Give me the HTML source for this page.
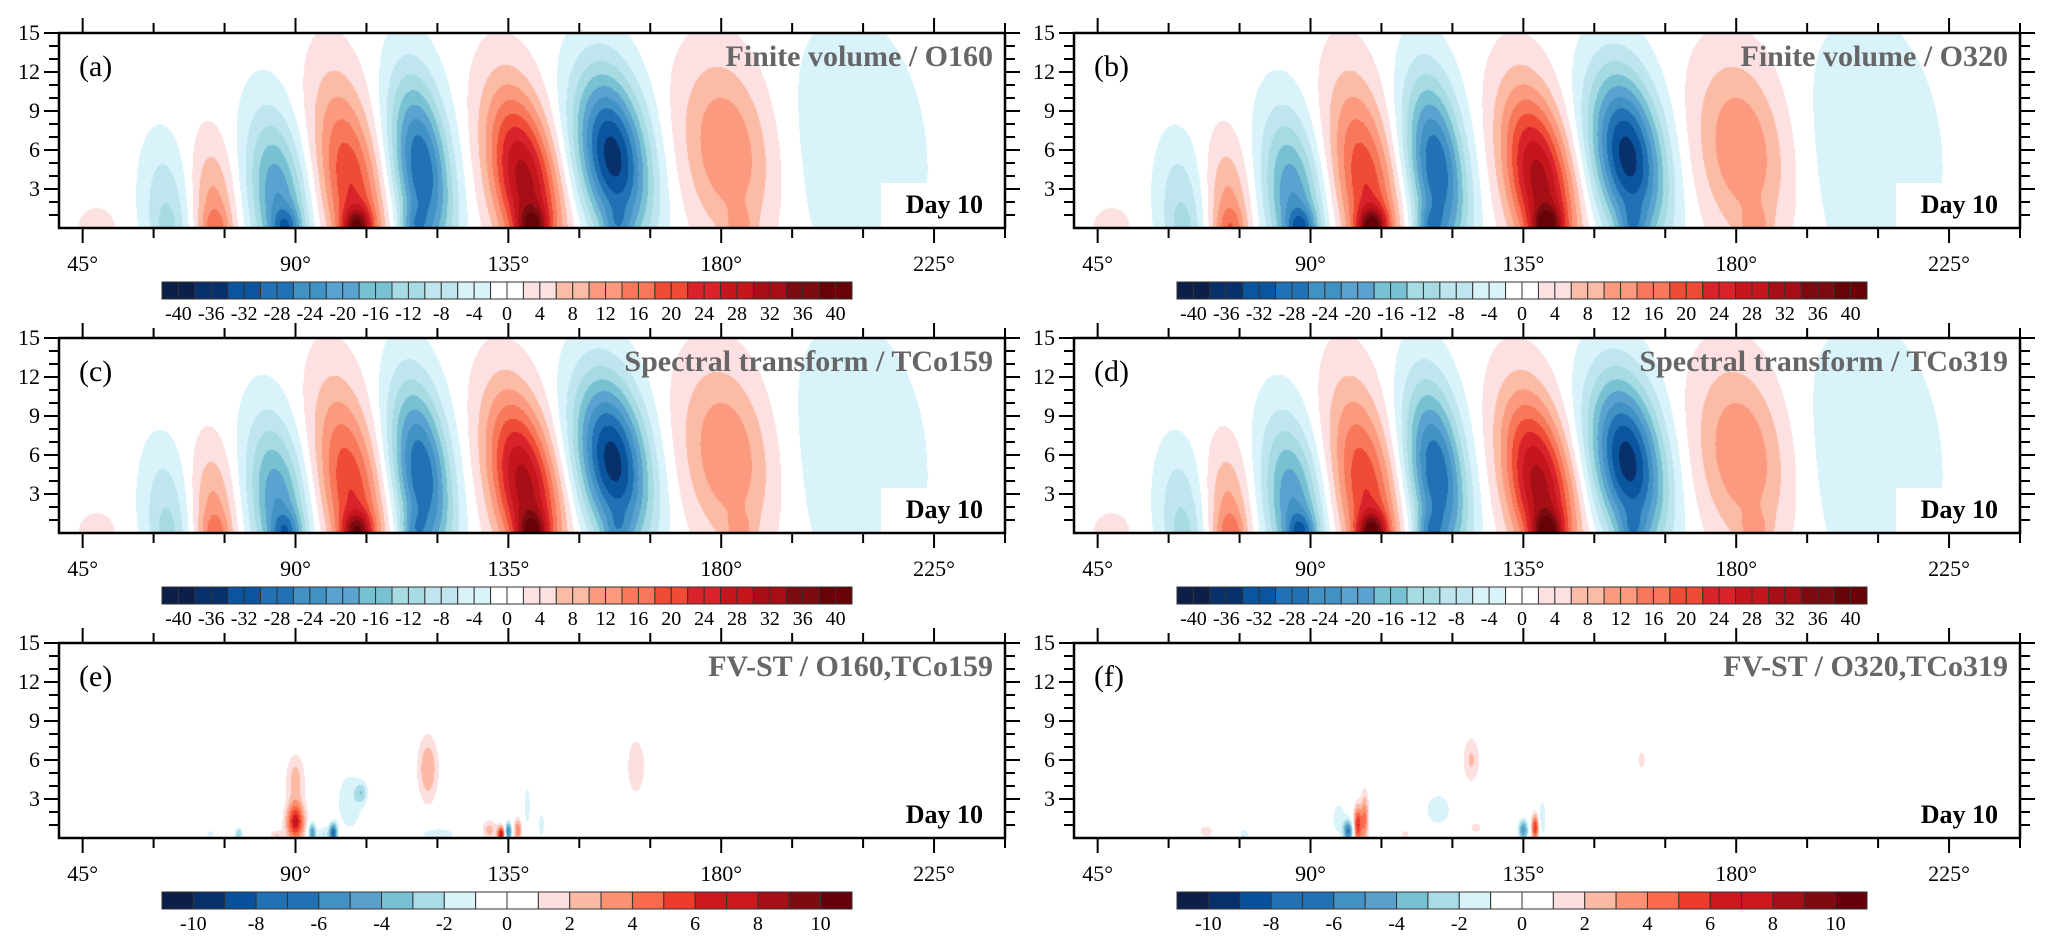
<!DOCTYPE html>
<html><head><meta charset="utf-8">
<style>
html,body{margin:0;padding:0;background:#fff;}
body{width:2054px;height:948px;position:relative;overflow:hidden;font-family:"Liberation Serif",serif;}
canvas{position:absolute;}
svg{position:absolute;left:0;top:0;}
</style></head>
<body>
<svg id="ov" width="2054" height="948"></svg>
<script>
// ---- data: wave lobes of the meridional-wind field (shared by panels a-d) ----
const lobeLon=[48,63,73,87,103,118,140,159,183,210];
const lobeAmp=[5,-10,12,-22,22,-30,32,-36,14,-6];
const lobeZ=[0,1,1,2,3,4.5,3.5,5.5,6,6];
const lobeH=[1.6,5.5,5.5,6.6,8,7,7,6.5,7,10];
const lobeW=[4,5,4.5,6,6.5,6,7,7.5,9.5,14];
const lobeTilt=[0,-0.2,-0.15,-0.3,-0.4,-0.3,-0.45,-0.35,-0.3,-0.2];
const surfAmp=[0,-2,6,-12,22,-10,18,-8,6,0];
const surfLon=[48,63,73,88,103,115,140,158,184,210];
const panelSurfScale=[1,1.15,0.95,1.1];
// ---- difference panels (e,f): blobs [lon, height, amplitude, width, depth] ----
const diffE=[[90,1.2,6.5,2,1.5],[90,4.5,2.5,2,2],[86,0.2,2,1.5,0.4],[93.5,0.4,-5,0.8,0.8],[98,0.4,-7,0.8,0.7],[101.5,2.8,-1.8,3,2.5],[104,3.5,-2.2,1.3,0.8],[96,0.3,-2,1.3,0.6],[118,5.3,3,2.2,2.6],[120,0.3,-1.5,5,0.6],[131,0.6,2.5,1.5,0.8],[133.5,0.3,7,0.8,0.6],[135,0.5,-6,0.7,0.7],[137,0.6,4,0.8,0.9],[139,2.5,-1.5,0.8,2],[142,1,-1.5,0.8,1.2],[162,5.5,2,2,2.3],[78,0.3,-3,0.8,0.5],[72,0.3,-1.2,1.5,0.5]];
const diffF=[[68,0.5,1.5,1.8,0.6],[76,0.3,-1.5,1.2,0.5],[100,1.0,6,0.9,1.5],[101.5,1.5,4,0.8,2],[98,0.5,-6,1,0.8],[96,1.5,-1.5,1.8,1.5],[117,2.2,-1.5,3.5,1.6],[124,6,2.2,1.8,1.8],[135,0.6,-5,1,0.8],[137.5,0.8,6,0.8,1],[139,1.5,-2,0.8,1.5],[160,6,1.6,0.9,0.8],[125,0.8,1.3,1.8,0.6],[110,0.3,1.2,1.8,0.5]];
const mainLabels=[-40,-36,-32,-28,-24,-20,-16,-12,-8,-4,0,4,8,12,16,20,24,28,32,36,40];
const diffLabels=[-10,-8,-6,-4,-2,0,2,4,6,8,10];
const xTicks=[45,90,135,180,225];
const yTicks=[3,6,9,12,15];
const titles=["Finite volume / O160","Finite volume / O320","Spectral transform / TCo159","Spectral transform / TCo319","FV-ST / O160,TCo159","FV-ST / O320,TCo319"];
const letters=["(a)","(b)","(c)","(d)","(e)","(f)"];

const mainColors=["#0b1f48","#08306b","#0b559f","#2171b5","#4292c6","#5aa2cf","#78c1d3","#a6dbe4","#bfe6ee","#d9f3fb","#ffffff","#fde0e1","#fcbba5","#fb9a7e","#f7785a","#ef4b35","#d9232a","#c4161c","#a50f15","#7a0c11","#650307"];
const diffColors=["#0b1f48","#08306b","#08519c","#2171b5","#2171b5","#4292c6","#5aa0cc","#78c0d4","#a8dce6","#d9f3fb","#ffffff","#ffffff","#fddfe0","#fcbaa5","#fc9272","#fb6a4a","#ef3b2c","#cb181d","#cb181d","#a50f15","#7f0b12","#67000d"];

const PW=946,PH=195,LON0=40,LON1=240,ZMAX=15;
const panels=[[59,33],[1074,33],[59,338],[1074,338],[59,643],[1074,643]];
function xs(lon){return (lon-LON0)/(LON1-LON0)*PW;}
function ys(z){return PH-(z/ZMAX)*PH;}
function hex(c){return [parseInt(c.slice(1,3),16),parseInt(c.slice(3,5),16),parseInt(c.slice(5,7),16)];}
const mainRGB=mainColors.map(hex),diffRGB=diffColors.map(hex);

function mainField(lon,z,s){
  let v=0;
  for(let i=0;i<lobeLon.length;i++){
    const c=lobeLon[i]+lobeTilt[i]*z;
    const dx=(lon-c)/lobeW[i],dz=(z-lobeZ[i])/lobeH[i];
    v+=lobeAmp[i]*Math.exp(-dx*dx-dz*dz);
    if(surfAmp[i]){const sx=(lon-surfLon[i])/3,sz=z/1.5;v+=s*surfAmp[i]*Math.exp(-sx*sx-sz*sz);}
  }
  return v;
}
function diffField(lon,z,b){
  let v=0;
  for(const d of b){const dx=(lon-d[0])/d[3],dz=(z-d[1])/d[4];v+=d[2]*Math.exp(-dx*dx-dz*dz);}
  return v;
}
const NS="http://www.w3.org/2000/svg";
const ov=document.getElementById('ov');
function el(tag,attrs,parent,txt){const e=document.createElementNS(NS,tag);for(const k in attrs)e.setAttribute(k,attrs[k]);if(txt!==undefined)e.textContent=txt;(parent||ov).appendChild(e);return e;}

panels.forEach((p,pi)=>{
  const [L,T]=p;
  const cv=document.createElement('canvas');
  cv.width=PW;cv.height=PH;cv.style.left=L+'px';cv.style.top=T+'px';
  
  
  document.body.insertBefore(cv,ov);
  const ctx=cv.getContext('2d');const img=ctx.createImageData(PW,PH);
  const isDiff=pi>=4;
  for(let py=0;py<PH;py++){const z=ZMAX*(1-(py+0.5)/PH);
    for(let px=0;px<PW;px++){const lon=LON0+(px+0.5)/PW*(LON1-LON0);
      let rgb;
      if(isDiff){const v=diffField(lon,z,pi===4?diffE:diffF);let k=Math.floor(v)+11;k=Math.max(0,Math.min(21,k));rgb=diffRGB[k];}
      else{const v=mainField(lon,z,panelSurfScale[pi]);let k=Math.round(v/4);k=Math.max(-10,Math.min(10,k));rgb=mainRGB[k+10];}
      const o=(py*PW+px)*4;img.data[o]=rgb[0];img.data[o+1]=rgb[1];img.data[o+2]=rgb[2];img.data[o+3]=255;}}
  ctx.putImageData(img,0,0);

  const g=el('g',{transform:`translate(${L},${T})`});
  
  
  el('rect',{x:PW-124,y:PH-45,width:124,height:45,fill:'#fff'},g);
  const day=el('text',{x:PW-22,y:PH-15,'text-anchor':'end','font-size':26,'font-weight':'bold',fill:'#000'},g,'Day 10');
  
  
  const tt=el('text',{x:PW-12,y:33,'text-anchor':'end','font-size':30,'font-weight':'bold',fill:'#666'},g,titles[pi]);
  
  
  const lt=el('text',{x:20,y:43,'font-size':30,fill:'#000'},g,letters[pi]);
  
  
  const fr=el('rect',{x:0,y:0,width:PW,height:PH,fill:'none',stroke:'#000','stroke-width':2.5},g);
  
  
  for(let lon=45;lon<=LON1;lon+=15){const x=xs(lon);const major=xTicks.includes(lon);const len=major?15:10;
    el('line',{x1:x,x2:x,y1:0,y2:-len,stroke:'#000','stroke-width':2},g);
    el('line',{x1:x,x2:x,y1:PH,y2:PH+len,stroke:'#000','stroke-width':2},g);}
  xTicks.forEach(lon=>{const t=el('text',{x:xs(lon),y:PH+43,'text-anchor':'middle','font-size':22,fill:'#000'},g,lon+'°');
    
    });
  for(let z=1;z<=ZMAX;z++){const y=ys(z);const major=yTicks.includes(z);const len=major?15:10;
    el('line',{x1:0,x2:-len,y1:y,y2:y,stroke:'#000','stroke-width':2},g);
    el('line',{x1:PW,x2:PW+len,y1:y,y2:y,stroke:'#000','stroke-width':2},g);}
  yTicks.forEach(z=>{const t=el('text',{x:-19,y:ys(z)+7,'text-anchor':'end','font-size':22,fill:'#000'},g,String(z));
    
    });
  const cb=el('g',{transform:`translate(103,249)`},g);
  
  
  const n=isDiff?22:42,W=690,bw=W/n;
  for(let i=0;i<n;i++){const col=isDiff?diffColors[i]:mainColors[Math.floor(i/2)];
    el('rect',{x:i*bw,y:0,width:bw,height:17,fill:col,stroke:'#333','stroke-width':1},cb);}
  (isDiff?diffLabels:mainLabels).forEach((v,i)=>{const t=el('text',{x:(1+2*i)*bw,y:38,'text-anchor':'middle','font-size':20,fill:'#000'},cb,String(v));
    
    });
});
</script>
</body></html>
